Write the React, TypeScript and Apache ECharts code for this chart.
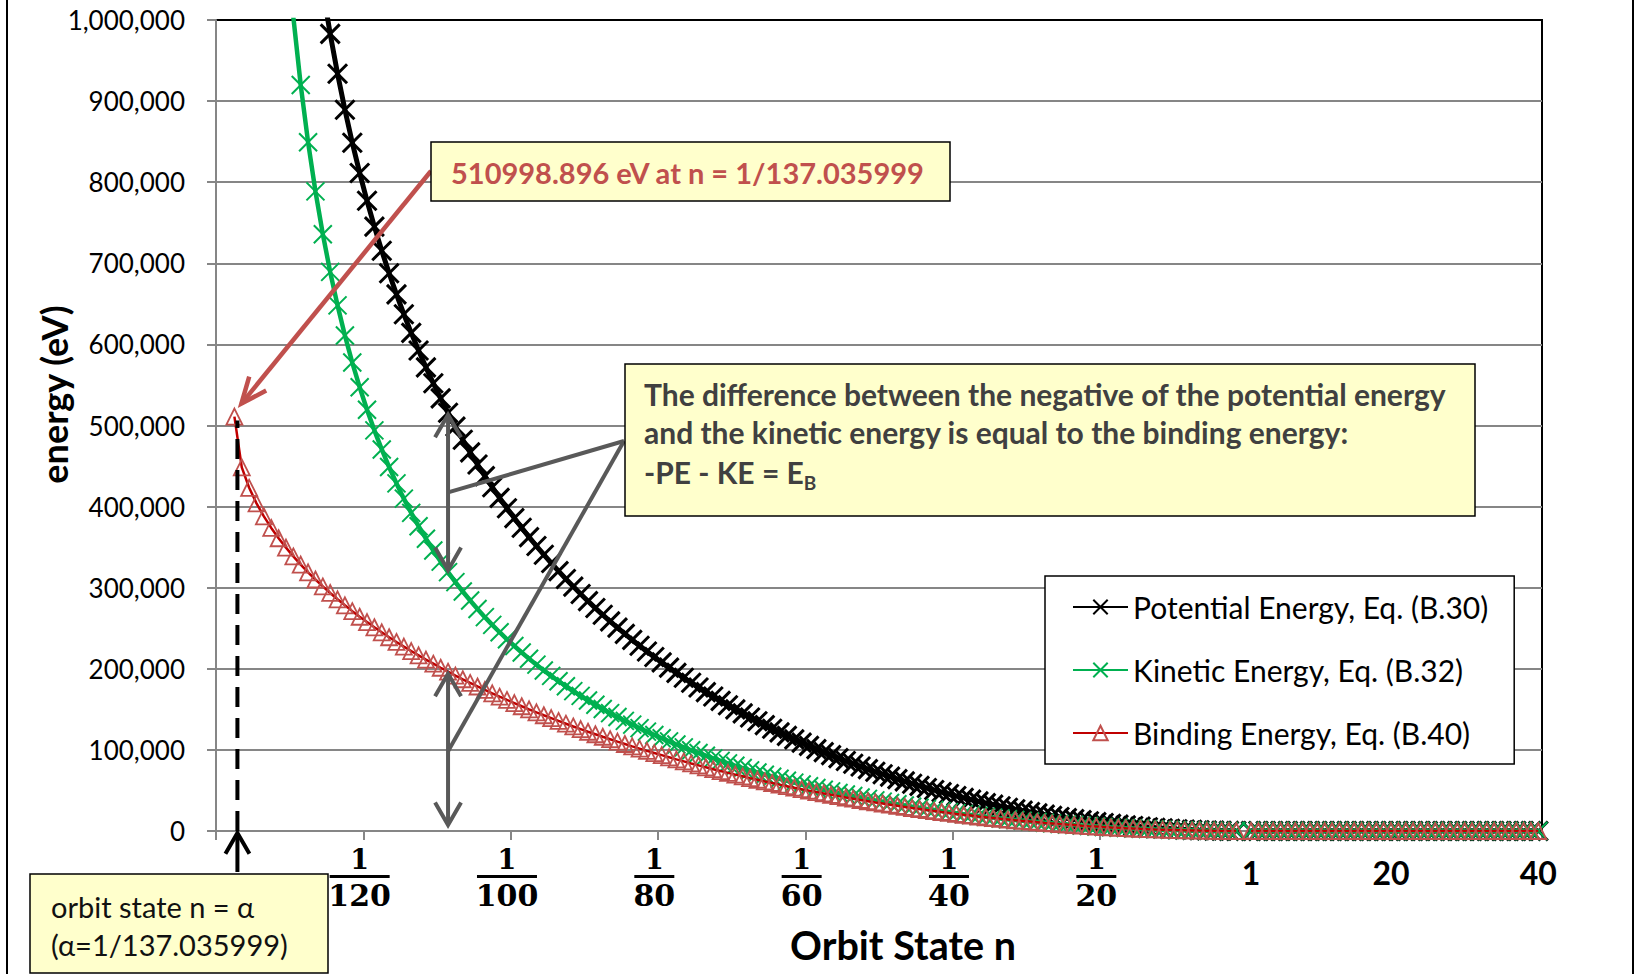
import React, { useEffect, useRef } from 'react';
import * as echarts from 'echarts';

// ---------- categories (orbit state n) ----------
const leadingStates: string[] = ['1/139', '1/138', 'α'];
const fractionStates: string[] = Array.from({ length: 136 }, (_, k) => `1/${136 - k}`);
const gapState: string[] = [' '];
const integerStates: string[] = Array.from({ length: 40 }, (_, k) => String(k + 1));
const categories: string[] = [...leadingStates, ...fractionStates, ...gapState, ...integerStates];

// indices of the categories that carry an axis label
const labelledIndices: number[] = [19, 39, 59, 79, 99, 119, 140, 159, 179];

// ---------- series values (eV) ----------
// Potential energy (magnitude), n = 1/139, 1/138, alpha
const potentialLead: (number | null)[] = [null, null, null];
// n = 1/136 ... 1/1
const potentialFraction: number[] = [
  4100900, 2887700, 2334100, 1998000, 1765200, 1590900, 1453900, 1342100, 1248400, 1168300,
  1098800, 1037500, 982900, 933800, 889300, 848700, 811400, 777100, 745200, 715500,
  687700, 661700, 637200, 614200, 592400, 571700, 552100, 533500, 515700, 498600,
  482400, 466800, 451900, 437600, 423900, 410700, 398000, 385800, 373900, 362400,
  351400, 340700, 330500, 320400, 310800, 301400, 292300, 283400, 274900, 266600,
  258500, 250700, 243100, 235600, 228400, 221300, 214500, 207900, 201400, 195000,
  188900, 182800, 177000, 171300, 165800, 160400, 155100, 149900, 145000, 140000,
  135300, 130500, 126100, 121600, 117300, 113000, 109000, 104900, 101000, 97200,
  93500, 89900, 86300, 82900, 79500, 76300, 73000, 70000, 67000, 64000,
  61200, 58300, 55700, 53000, 50500, 47900, 45600, 43100, 40800, 38700,
  36500, 34400, 32500, 30500, 28600, 26800, 25100, 23400, 21800, 20200,
  18700, 17300, 15900, 14600, 13400, 12100, 11000, 9900, 8850, 7900,
  7000, 6140, 5350, 4610, 3920, 3300, 2720, 2200, 1740, 1330,
  980, 680, 440, 240, 109, 27,
];
// n = 1 ... 40
const potentialInteger: number[] = [
  27.2, 6.8, 3.0, 1.7, 1.1, 0.8, 0.6, 0.4, 0.3, 0.3,
  0.2, 0.2, 0.2, 0.1, 0.1, 0.1, 0.1, 0.1, 0.1, 0.1,
  0.1, 0.1, 0.1, 0, 0, 0, 0, 0, 0, 0,
  0, 0, 0, 0, 0, 0, 0, 0, 0, 0,
];

const kineticLead: (number | null)[] = [null, null, null];
const kineticFraction: number[] = [
  3652600, 2464500, 1930100, 1610100, 1391500, 1229900, 1104500, 1003500, 919900, 849300,
  788700, 735900, 689400, 648100, 611000, 577600, 547200, 519500, 494000, 470500,
  448800, 428600, 409800, 392300, 375800, 360400, 345800, 332200, 319200, 306900,
  295300, 284200, 273700, 263700, 254200, 245100, 236400, 228100, 220100, 212400,
  205100, 198000, 191300, 184700, 178500, 172500, 166600, 161000, 155600, 150400,
  145300, 140500, 135800, 131200, 126800, 122500, 118400, 114400, 110500, 106700,
  103100, 99500, 96100, 92800, 89600, 86500, 83400, 80400, 77600, 74800,
  72100, 69400, 66900, 64400, 62000, 59600, 57400, 55100, 53000, 50900,
  48900, 46900, 45000, 43100, 41300, 39600, 37800, 36200, 34600, 33000,
  31500, 30000, 28600, 27200, 25900, 24500, 23300, 22000, 20800, 19700,
  18600, 17500, 16500, 15500, 14500, 13600, 12700, 11800, 11000, 10200,
  9450, 8700, 8000, 7400, 6700, 6100, 5500, 5000, 4450, 3970,
  3510, 3080, 2680, 2310, 1960, 1650, 1360, 1100, 870, 670,
  490, 340, 220, 120, 54, 14,
];
const kineticInteger: number[] = [
  13.6, 3.4, 1.5, 0.9, 0.5, 0.4, 0.3, 0.2, 0.2, 0.1,
  0.1, 0.1, 0.1, 0.1, 0.1, 0.1, 0, 0, 0, 0,
  0, 0, 0, 0, 0, 0, 0, 0, 0, 0,
  0, 0, 0, 0, 0, 0, 0, 0, 0, 0,
];

const bindingLead: (number | null)[] = [null, null, 510998.896];
const bindingFraction: number[] = [
  448300, 423200, 404000, 387900, 373700, 361000, 349400, 338600, 328500, 319000,
  310100, 301600, 293500, 285700, 278300, 271100, 264200, 257600, 251200, 245000,
  238900, 233100, 227400, 221900, 216600, 211300, 206300, 201300, 196500, 191700,
  187100, 182600, 178200, 173900, 169700, 165600, 161600, 157700, 153800, 150000,
  146300, 142700, 139200, 135700, 132300, 128900, 125700, 122400, 119300, 116200,
  113200, 110200, 107300, 104400, 101600, 98800, 96100, 93500, 90900, 88300,
  85800, 83300, 80900, 78500, 76200, 73900, 71700, 69500, 67400, 65200,
  63200, 61100, 59200, 57200, 55300, 53400, 51600, 49800, 48000, 46300,
  44600, 43000, 41300, 39800, 38200, 36700, 35200, 33800, 32400, 31000,
  29700, 28300, 27100, 25800, 24600, 23400, 22300, 21100, 20000, 19000,
  17900, 16900, 16000, 15000, 14100, 13200, 12400, 11600, 10800, 10000,
  9300, 8600, 7900, 7300, 6600, 6000, 5450, 4900, 4400, 3940,
  3490, 3060, 2670, 2300, 1960, 1650, 1360, 1100, 870, 670,
  490, 340, 220, 120, 54, 14,
];
const bindingInteger: number[] = [
  13.6, 3.4, 1.5, 0.9, 0.5, 0.4, 0.3, 0.2, 0.2, 0.1,
  0.1, 0.1, 0.1, 0.1, 0.1, 0.1, 0, 0, 0, 0,
  0, 0, 0, 0, 0, 0, 0, 0, 0, 0,
  0, 0, 0, 0, 0, 0, 0, 0, 0, 0,
];

const potential = [...potentialLead, ...potentialFraction, null, ...potentialInteger];
const kinetic = [...kineticLead, ...kineticFraction, null, ...kineticInteger];
const binding = [...bindingLead, ...bindingFraction, null, ...bindingInteger];

const seriesNames = [
  'Potential Energy, Eq. (B.30)',
  'Kinetic Energy, Eq. (B.32)',
  'Binding Energy, Eq. (B.40)',
];

// annotation anchors
const alphaIndex = 2;
const arrowIndex = 31;

const X_SYMBOL = 'path://M0,0L10,10M10,0L0,10';

function arrowHead(tipX: number, tipY: number, fromX: number, fromY: number, len: number, half: number) {
  const dx = fromX - tipX;
  const dy = fromY - tipY;
  const d = Math.hypot(dx, dy) || 1;
  const ux = dx / d;
  const uy = dy / d;
  const a = (half * Math.PI) / 180;
  const r = (s: number) => [
    tipX + len * (ux * Math.cos(s * a) - uy * Math.sin(s * a)),
    tipY + len * (ux * Math.sin(s * a) + uy * Math.cos(s * a)),
  ];
  return [r(1), [tipX, tipY], r(-1)];
}

export default function App() {
  const ref = useRef<HTMLDivElement>(null);

  useEffect(() => {
    if (!ref.current) return;
    const chart = echarts.init(ref.current, null, { renderer: 'svg' });

    const option: any = {
      animation: false,
      textStyle: { fontFamily: 'Lato' },
      grid: {
        left: 216,
        right: 94,
        top: 20,
        bottom: 143,
        show: true,
        borderColor: '#000',
        borderWidth: 2,
        backgroundColor: 'transparent',
        outerBoundsMode: 'none',
      },
      legend: {
        orient: 'vertical',
        left: 1045,
        top: 576,
        backgroundColor: '#fff',
        borderColor: '#000',
        borderWidth: 1.5,
        padding: [16, 26, 16, 27],
        itemGap: 33,
        itemWidth: 55,
        itemHeight: 18,
        selectedMode: false,
        textStyle: { fontFamily: 'Lato', fontSize: 30, color: '#000', lineHeight: 30 },
        data: seriesNames,
        z: 20,
      },
      xAxis: {
        type: 'category',
        data: categories,
        boundaryGap: true,
        axisLine: { show: true, lineStyle: { color: '#868686', width: 2 } },
        axisTick: { show: true, interval: 19, length: 9, lineStyle: { color: '#868686', width: 2 } },
        splitLine: { show: false },
        axisLabel: {
          interval: (index: number) => labelledIndices.includes(index),
          hideOverlap: false,
          margin: 15,
          color: '#000',
          formatter: (value: string) => {
            if (value.includes('/')) {
              const [n, d] = value.split('/');
              return `{num|${n}}\n{${d.length > 2 ? 'bar3' : 'bar2'}| }\n{den|${d}}`;
            }
            return `{int|${value}}`;
          },
          rich: {
            num: { fontFamily: 'DejaVu Serif', fontWeight: 'bold', fontSize: 27, lineHeight: 27, align: 'center', color: '#000' },
            bar3: { width: 60, height: 3, lineHeight: 7, backgroundColor: '#000', align: 'center' },
            bar2: { width: 40, height: 3, lineHeight: 7, backgroundColor: '#000', align: 'center' },
            den: { fontFamily: 'DejaVu Serif', fontWeight: 'bold', fontSize: 30, lineHeight: 30, align: 'center', color: '#000' },
            int: { fontFamily: 'Lato', fontWeight: 'bold', fontSize: 32, lineHeight: 52, align: 'center', color: '#000' },
          },
        },
        name: 'Orbit State n',
        nameLocation: 'middle',
        nameGap: 93,
        nameMoveOverlap: false,
        nameTextStyle: { fontFamily: 'Lato', fontWeight: 'bold', fontSize: 39.5, color: '#000', padding: [0, 0, 0, 48] },
      },
      yAxis: {
        type: 'value',
        min: 0,
        max: 1000000,
        interval: 100000,
        axisLine: { show: true, lineStyle: { color: '#868686', width: 2 } },
        axisTick: { show: true, length: 9, lineStyle: { color: '#868686', width: 2 } },
        splitLine: { show: true, showMaxLine: false, lineStyle: { color: '#868686', width: 2 } },
        axisLabel: {
          formatter: (v: number) => v.toLocaleString('en-US'),
          fontFamily: 'Lato',
          fontSize: 26,
          color: '#000',
          margin: 31,
        },
        name: 'energy (eV)',
        nameLocation: 'middle',
        nameRotate: 90,
        nameGap: 144,
        nameMoveOverlap: false,
        nameTextStyle: { fontFamily: 'Lato', fontWeight: 'bold', fontSize: 36, color: '#000', padding: [0, 0, 0, 62] },
      },
      series: [
        {
          name: seriesNames[0],
          type: 'line',
          data: potential,
          clip: true,
          silent: true,
          showAllSymbol: true,
          symbol: X_SYMBOL,
          symbolSize: 19,
          lineStyle: { color: '#000', width: 5 },
          itemStyle: { color: '#000', borderColor: '#000', borderWidth: 3 },
          emphasis: { disabled: true },
          z: 2,
        },
        {
          name: seriesNames[1],
          type: 'line',
          data: kinetic,
          clip: true,
          silent: true,
          showAllSymbol: true,
          symbol: X_SYMBOL,
          symbolSize: 18,
          lineStyle: { color: '#00B050', width: 4.5 },
          itemStyle: { color: '#00B050', borderColor: '#00B050', borderWidth: 2 },
          emphasis: { disabled: true },
          z: 3,
        },
        {
          name: seriesNames[2],
          type: 'line',
          data: binding,
          clip: true,
          silent: true,
          showAllSymbol: true,
          symbol: 'triangle',
          symbolSize: 16,
          lineStyle: { color: '#C00000', width: 2.5 },
          itemStyle: { color: 'rgba(0,0,0,0)', borderColor: '#C0504D', borderWidth: 1.8 },
          emphasis: { disabled: true },
          z: 4,
        },
      ],
    };

    chart.setOption(option);

    const px = (i: number, v: number) => chart.convertToPixel({ gridIndex: 0 }, [i, v]) as number[];
    const [xA0, yA] = px(alphaIndex, binding[alphaIndex] as number);
    const xA = xA0 + 3;
    const y0 = px(alphaIndex, 0)[1];
    const xArr = px(arrowIndex, 0)[0];
    const yPE = px(arrowIndex, potential[arrowIndex] as number)[1];
    const yKE = px(arrowIndex, kinetic[arrowIndex] as number)[1];
    const yBE = px(arrowIndex, binding[arrowIndex] as number)[1];

    const gray = '#595959';
    const red = '#C0504D';
    const boxFill = '#FFFFCC';

    const line = (x1: number, y1: number, x2: number, y2: number, stroke: string, w: number, extra: any = {}) => ({
      type: 'line', z: 100, silent: true,
      shape: { x1, y1, x2, y2 },
      style: { stroke, lineWidth: w, ...extra },
    });
    const head = (tx: number, ty: number, fx: number, fy: number, stroke: string, w: number, len: number, half: number) => ({
      type: 'polyline', z: 100, silent: true,
      shape: { points: arrowHead(tx, ty, fx, fy, len, half) },
      style: { stroke, lineWidth: w, fill: null, lineJoin: 'miter' },
    });

    const redTip = [xA + 4, yA - 13];
    const calloutX = 624;
    const calloutY = 441;

    const graphic: any[] = [
      // chart outer border
      { type: 'rect', z: 0, silent: true, shape: { x: 7, y: -10, width: 1626, height: 1000 }, style: { fill: null, stroke: '#000', lineWidth: 2 } },
      // dashed alpha line
      line(xA, y0, xA, yA + 4, '#000', 4, { lineDash: [20, 11] }),
      // up arrow to alpha
      line(xA, y0 + 41, xA, y0 + 3, '#000', 4),
      head(xA, y0 + 2, xA, y0 + 41, '#000', 4, 24, 30),
      // red callout arrow
      line(431, 171, redTip[0], redTip[1], red, 4.5),
      head(redTip[0], redTip[1], 431, 171, red, 4.5, 28, 23),
      // red text box
      { type: 'rect', z: 101, silent: true, shape: { x: 431, y: 142, width: 519, height: 59 }, style: { fill: boxFill, stroke: '#000', lineWidth: 1.5 } },
      {
        type: 'text', z: 102, silent: true, x: 451, y: 172,
        style: { text: '510998.896 eV at n = 1/137.035999', fill: red, fontFamily: 'Lato', fontWeight: 'bold', fontSize: 29, verticalAlign: 'middle' },
      },
      // gray double arrows
      line(xArr, yPE + 3, xArr, yKE - 3, gray, 4),
      head(xArr, yPE + 2, xArr, yKE, gray, 4, 26, 30),
      head(xArr, yKE - 2, xArr, yPE, gray, 4, 26, 30),
      line(xArr, yBE + 3, xArr, y0 - 7, gray, 4),
      head(xArr, yBE + 2, xArr, y0, gray, 4, 26, 30),
      head(xArr, y0 - 6, xArr, yBE, gray, 4, 26, 30),
      // gray callout lines
      line(calloutX, calloutY, xArr, (yPE + yKE) / 2, gray, 4),
      line(calloutX, calloutY, xArr, (yBE + y0) / 2, gray, 4),
      // big explanation box
      { type: 'rect', z: 101, silent: true, shape: { x: 625, y: 364, width: 850, height: 152 }, style: { fill: boxFill, stroke: '#000', lineWidth: 1.5 } },
      {
        type: 'text', z: 102, silent: true, x: 644, y: 394,
        style: { text: 'The difference between the negative of the potential energy', fill: '#404040', fontFamily: 'Lato', fontWeight: 'bold', fontSize: 30, verticalAlign: 'middle' },
      },
      {
        type: 'text', z: 102, silent: true, x: 644, y: 432,
        style: { text: 'and the kinetic energy is equal to the binding energy:', fill: '#404040', fontFamily: 'Lato', fontWeight: 'bold', fontSize: 30, verticalAlign: 'middle' },
      },
      {
        type: 'text', z: 102, silent: true, x: 644, y: 472,
        style: {
          text: '-PE - KE = E{sub|B}', fill: '#404040', fontFamily: 'Lato', fontWeight: 'bold', fontSize: 30, lineHeight: 40, verticalAlign: 'middle',
          rich: { sub: { fontFamily: 'Lato', fontWeight: 'bold', fontSize: 19, fill: '#404040', lineHeight: 20, verticalAlign: 'bottom' } },
        },
      },
      // bottom-left alpha box
      { type: 'rect', z: 101, silent: true, shape: { x: 30, y: 874, width: 298, height: 99 }, style: { fill: boxFill, stroke: '#000', lineWidth: 1.5 } },
      {
        type: 'text', z: 102, silent: true, x: 51, y: 906,
        style: { text: 'orbit state n = α', fill: '#111', fontFamily: 'Lato', fontSize: 29, verticalAlign: 'middle' },
      },
      {
        type: 'text', z: 102, silent: true, x: 51, y: 944,
        style: { text: '(α=1/137.035999)', fill: '#111', fontFamily: 'Lato', fontSize: 29, verticalAlign: 'middle' },
      },
    ];

    chart.setOption({ graphic });

    return () => chart.dispose();
  }, []);

  return <div ref={ref} style={{ position: 'absolute', left: 0, top: 0, width: 1636, height: 974, background: '#fff' }} />;
}
